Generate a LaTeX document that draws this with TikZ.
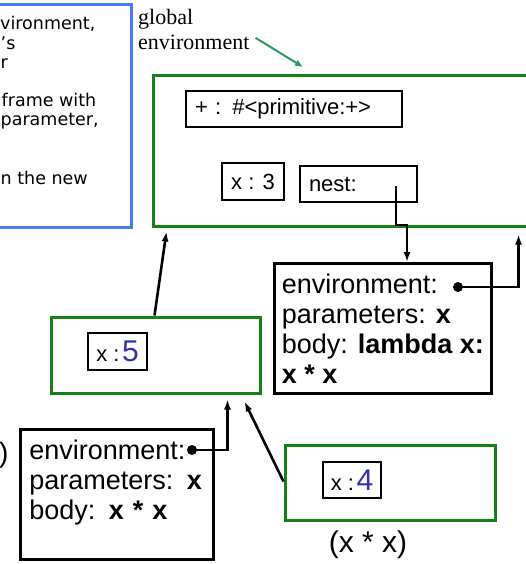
\documentclass[tikz,border=0pt]{standalone}
\usepackage{fontspec}
\setmainfont{Liberation Sans}
\newfontfamily\dvs{DejaVu Sans}
\newfontfamily\tms{Liberation Serif}
\usetikzlibrary{arrows.meta,calc}
\definecolor{envgreen}{RGB}{20,130,20}
\definecolor{noteblue}{RGB}{74,120,255}
\definecolor{lblgreen}{RGB}{40,155,100}
\definecolor{numblue}{RGB}{50,50,170}
\tikzset{
  frame/.style={draw=envgreen,line width=3pt,inner sep=0pt},
  binding/.style={draw=black,line width=2.6pt,font=\fontsize{22}{24}\selectfont},
  closure/.style={draw=black,line width=2.6pt,align=left,anchor=north west,
    font=\fontsize{27}{30}\selectfont},
  notetext/.style={anchor=base west,inner sep=0pt,font=\dvs\fontsize{17.5}{19}\selectfont},
  ptr/.style={line width=2.6pt,-{Latex[length=10pt,width=7pt]}},
  dotnode/.style={circle,fill=black,inner sep=0pt,minimum size=10pt},
}
\begin{document}
\begin{tikzpicture}[x=1pt,y=-1pt]
\useasboundingbox (0,0) rectangle (526,564);
% note box (clipped at left)
\node[draw=noteblue,line width=3pt,minimum width=141pt,minimum height=222pt] (note) at (60.5,116) {};
\node[notetext] (n1) at (0,30) {vironment,};
\node[notetext] (n2) at (0.5,49.5) {’s};
\node[notetext] (n3) at (0.5,69) {r};
\node[notetext] (n4) at (1.5,107) {frame with};
\node[notetext] (n5) at (0.5,126) {parameter,};
\node[notetext] (n6) at (0.5,184.5) {n the new};
% global label
\node[anchor=north west,inner sep=0pt,align=left,font=\tms\fontsize{22}{25}\selectfont] (glbl) at (138,9) {global\\environment};
\coordinate (gtip) at (303,67);
% global frame
\node[frame,minimum width=377pt,minimum height=150pt] (glob) at (341.5,151) {};
\draw[lblgreen,line width=2pt,-{Latex[length=8pt,width=7pt]}] ($(glbl.south east)+(6,-12)$) -- (gtip);
\node[binding,minimum height=36pt,text width=198pt,align=left,inner xsep=9pt] (prim) at (294,109) {+ : \#<primitive:+>};
\node[binding,minimum width=62pt,minimum height=37pt] (x3) at (253,181.5) {x : 3};
\node[binding,minimum height=36pt,text width=99pt,align=left,inner xsep=9pt] (nest) at (358.5,184) {nest:};
\coordinate (nestp) at (396,186);
% lambda closure
\node[closure,minimum width=217pt,minimum height=130pt] (lam) at (273,262)
  {environment:\\parameters: \textbf{x}\\body: \textbf{lambda x:}\\\textbf{x * x}};
\node[dotnode] (ldot) at (458,287) {};
% frame x:5
\node[frame,minimum width=209pt,minimum height=76pt] (x5f) at (155.5,355) {};
\node[binding,minimum width=59pt,minimum height=37pt,inner xsep=2pt] (x5) at (117.5,351.5)
  {x :\hspace{2.5pt}{\fontsize{30}{30}\selectfont\color{numblue}5}};
% inner closure
\node[closure,text width=175pt,inner xsep=9pt,minimum height=130pt] (clo) at (19,428)
  {environment:\\parameters: \textbf{x}\\body: \textbf{x * x}\\\mbox{}};
\node[dotnode] (cdot) at (192,450) {};
% frame x:4
\node[frame,minimum width=210pt,minimum height=75pt] (x4f) at (390,482.5) {};
\node[binding,minimum width=58pt,minimum height=36pt,inner xsep=2pt] (x4) at (352,480)
  {x :\hspace{2.5pt}{\fontsize{30}{30}\selectfont\color{numblue}4}};
\node[font=\fontsize{30}{32}\selectfont] (app) at (368,545) {(x * x)};
\node[anchor=base west,inner sep=0pt,font=\fontsize{28}{30}\selectfont] (paren) at (-1,462) {)};
% pointers
\draw[ptr] (nestp) -- ($(nestp)+(0,39)$) -| ($(lam.north west)+(134,0)$);
\draw[ptr] (ldot.center) -| ($(glob.south west)+(367,7)$);
\draw[ptr] ($(x5f.north west)+(105,0)$) -- ($(glob.south west)+(15,4)$);
\draw[ptr] (cdot.center) -| ($(x5f.south west)+(178,5)$);
\draw[ptr] ($(x4f.north west)+(0,38)$) -- ($(x5f.south east)+(-17,7)$);
\end{tikzpicture}
\end{document}
